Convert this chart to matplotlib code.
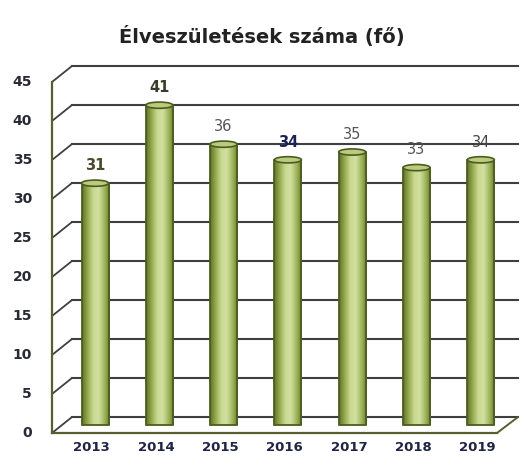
import numpy as np
import matplotlib.pyplot as plt
from matplotlib.colors import LinearSegmentedColormap
from matplotlib.patches import Ellipse, Rectangle
from matplotlib.transforms import ScaledTranslation, blended_transform_factory

years = ['2013', '2014', '2015', '2016', '2017', '2018', '2019']
births = [31, 41, 36, 34, 35, 33, 34]
yticks = [0, 5, 10, 15, 20, 25, 30, 35, 40, 45]
title = 'Élveszületések száma (fő)'

DPI = 100
fig = plt.figure(figsize=(5.21, 4.61), dpi=DPI)
ax = fig.add_axes([52 / 521, (461 - 433) / 461, (518 - 52) / 521, (433 - 60) / 461])
ax.axis('off')

px = lambda dx, dy: ScaledTranslation(dx / DPI, dy / DPI, fig.dpi_scale_trans)
xax_front = blended_transform_factory(ax.transAxes, ax.transData) + px(0, -8)
xax_back = blended_transform_factory(ax.transAxes, ax.transData) + px(0, 8)

grid_c = '#3f3f3f'
axis_c = '#55602e'
# back wall gridlines and diagonals to the front axis
for v in yticks:
    ax.plot([20 / 466, 1.0], [v, v], transform=xax_back, color=grid_c, lw=1.5,
            clip_on=False, zorder=1)
    ax.annotate('', xy=(20 / 466, v), xycoords=xax_back,
                xytext=(0, v), textcoords=xax_front,
                arrowprops=dict(arrowstyle='-', color=grid_c, lw=1.3,
                                shrinkA=0, shrinkB=0), zorder=1)
    ax.text(0, v, str(v), transform=xax_front + px(-20, 0), ha='right',
            va='center', fontsize=10, fontweight='semibold', color='#2a2a35')

# front left axis
ax.plot([0, 0], [0, yticks[-1]], transform=xax_front, color=axis_c, lw=1.6,
        clip_on=False, zorder=2)
# floor front edge and right diagonal
ax.plot([0, 445 / 466], [0, 0], transform=xax_front, color=axis_c, lw=1.6,
        clip_on=False, zorder=2)
ax.annotate('', xy=(1.0, 0), xycoords=xax_back,
            xytext=(445 / 466, 0), textcoords=xax_front,
            arrowprops=dict(arrowstyle='-', color=axis_c, lw=1.4,
                            shrinkA=0, shrinkB=0), zorder=2)

# cylinder bars
cmap = LinearSegmentedColormap.from_list(
    'cyl', ['#5f7225', '#95ab50', '#c9d890', '#d2dfa0', '#a4b961', '#6a7e2c'])
grad = np.linspace(0, 1, 64).reshape(1, -1)
w = 0.42
bold = [True, True, False, True, False, False, False]
lab_c = ['#4a4a28', '#3b3b2b', '#555555', '#1c2255', '#555555', '#555555', '#444444']
for i, (yr, v) in enumerate(zip(years, births)):
    ax.imshow(grad, cmap=cmap, aspect='auto', extent=[i - w / 2, i + w / 2, 0, v],
              zorder=3, interpolation='bilinear')
    ax.add_patch(Rectangle((i - w / 2, 0), w, v, fill=False, ec='#4d5b20',
                           lw=1.3, zorder=4))
    ax.add_patch(Ellipse((i, v), w, 0.8, fc='#b9cb7c', ec='#4d5b20', lw=1.2, zorder=5))
    ax.text(i, v + 1.3, str(v), ha='center', va='bottom', fontsize=10.5,
            fontweight='bold' if bold[i] else 'normal', color=lab_c[i], zorder=6)
    ax.text(i - 0.05, -1.0 - 15 / 7.8, yr, ha='center', va='center', fontsize=9.5,
            fontweight='bold', color='#1e2444')

ax.set_xlim(-0.669, 6.578)
ax.set_ylim(-8 / 7.8, (425 - 60) / 7.8)

fig.text(262 / 521, 1 - 36 / 461, title, ha='center', va='center',
         fontsize=14, fontweight='bold', color='#222222')

fig.savefig('out.png', dpi=DPI)
